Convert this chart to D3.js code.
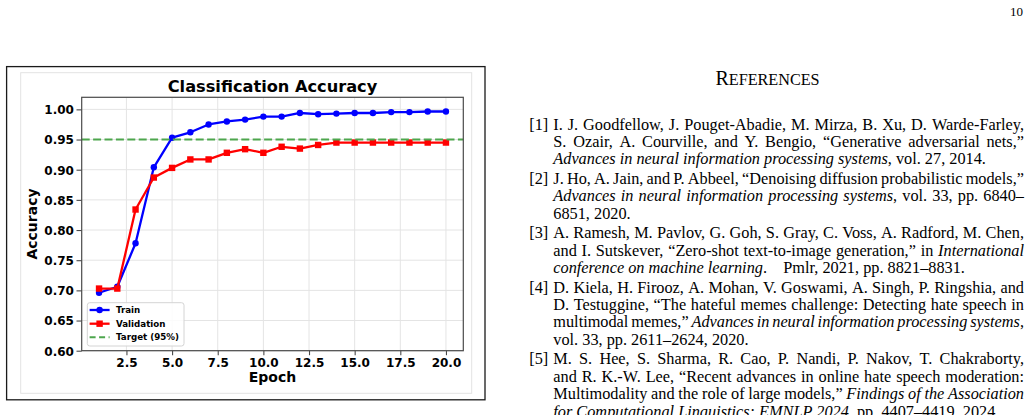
<!DOCTYPE html>
<html><head><meta charset="utf-8">
<script src="https://cdn.jsdelivr.net/npm/d3@7"></script>
<style>
html,body{margin:0;padding:0;background:#fff;}
svg{display:block;}
</style></head><body>
<svg id="page" width="1030" height="415"></svg>
<script>
// ---------------- chart data ----------------
const epochs = [1,2,3,4,5,6,7,8,9,10,11,12,13,14,15,16,17,18,19,20];
const trainAcc = [0.696,0.706,0.778,0.904,0.953,0.962,0.975,0.980,0.983,0.988,0.988,0.994,0.992,0.993,0.994,0.994,0.9955,0.9955,0.9965,0.9965];
const valAcc   = [0.703,0.703,0.834,0.887,0.903,0.917,0.917,0.928,0.934,0.928,0.938,0.935,0.941,0.945,0.945,0.945,0.945,0.945,0.945,0.945];
const targetAcc = 0.95;
const xTicks = [2.5,5.0,7.5,10.0,12.5,15.0,17.5,20.0];
const yTicks = [0.60,0.65,0.70,0.75,0.80,0.85,0.90,0.95,1.00];
const yLimits = [0.60,1.02];
const chartTitle = "Classification Accuracy";
const xLabel = "Epoch";
const yLabel = "Accuracy";
const legendLabels = ["Train","Validation","Target (95%)"];

// ---------------- page text ----------------
const pageNumber = "10";
const refHeadingFirst = "R";
const refHeadingRest = "EFERENCES";
const refLabels = ["[1]","[2]","[3]","[4]","[5]"];
// each line: array of [text, italic]
const refLines = [
  [
    [["I. J. Goodfellow, J. Pouget-Abadie, M. Mirza, B. Xu, D. Warde-Farley,",0]],
    [["S. Ozair, A. Courville, and Y. Bengio, \u201cGenerative adversarial nets,\u201d",0]],
    [["Advances in neural information processing systems",1],[", vol. 27, 2014.",0]]
  ],
  [
    [["J. Ho, A. Jain, and P. Abbeel, \u201cDenoising diffusion probabilistic models,\u201d",0]],
    [["Advances in neural information processing systems",1],[", vol. 33, pp. 6840\u2013",0]],
    [["6851, 2020.",0]]
  ],
  [
    [["A. Ramesh, M. Pavlov, G. Goh, S. Gray, C. Voss, A. Radford, M. Chen,",0]],
    [["and I. Sutskever, \u201cZero-shot text-to-image generation,\u201d in ",0],["International",1]],
    [["conference on machine learning",1],[".\u00a0\u00a0\u00a0 Pmlr, 2021, pp. 8821\u20138831.",0]]
  ],
  [
    [["D. Kiela, H. Firooz, A. Mohan, V. Goswami, A. Singh, P. Ringshia, and",0]],
    [["D. Testuggine, \u201cThe hateful memes challenge: Detecting hate speech in",0]],
    [["multimodal memes,\u201d ",0],["Advances in neural information processing systems",1],[",",0]],
    [["vol. 33, pp. 2611\u20132624, 2020.",0]]
  ],
  [
    [["M. S. Hee, S. Sharma, R. Cao, P. Nandi, P. Nakov, T. Chakraborty,",0]],
    [["and R. K.-W. Lee, \u201cRecent advances in online hate speech moderation:",0]],
    [["Multimodality and the role of large models,\u201d ",0],["Findings of the Association",1]],
    [["for Computational Linguistics: EMNLP 2024",1],[", pp. 4407\u20134419, 2024.",0]]
  ]
];

// ---------------- drawing ----------------
const svg = d3.select("#page");
svg.append("rect").attr("width",1030).attr("height",415).attr("fill","#fff");

const SANS = "'DejaVu Sans', Verdana, sans-serif";
const SERIF = "'Liberation Serif', 'Times New Roman', serif";

// figure frames
svg.append("rect").attr("x",6.6).attr("y",66.6).attr("width",478.4).attr("height",333.2)
  .attr("fill","none").attr("stroke","#1a1a1a").attr("stroke-width",1.3);
svg.append("rect").attr("x",20.7).attr("y",72.7).attr("width",451).attr("height",320.6)
  .attr("fill","#fff").attr("stroke","#e3e3e3").attr("stroke-width",1);

const P = {l:81.7, r:463.3, t:97.3, b:350.7};
const xPad = 0.05*(d3.max(epochs)-d3.min(epochs));
const x = d3.scaleLinear().domain([d3.min(epochs)-xPad, d3.max(epochs)+xPad]).range([P.l,P.r]);
const y = d3.scaleLinear().domain(yLimits).range([P.b,P.t]);

const plot = svg.append("g");
plot.append("rect").attr("x",P.l).attr("y",P.t).attr("width",P.r-P.l).attr("height",P.b-P.t).attr("fill","#fff");

// grid
plot.selectAll(".gx").data(xTicks).join("line")
  .attr("x1",d=>x(d)).attr("x2",d=>x(d)).attr("y1",P.t).attr("y2",P.b)
  .attr("stroke","#e4e4e4").attr("stroke-width",1);
plot.selectAll(".gy").data(yTicks).join("line")
  .attr("y1",d=>y(d)).attr("y2",d=>y(d)).attr("x1",P.l).attr("x2",P.r)
  .attr("stroke","#e4e4e4").attr("stroke-width",1);

const BLUE = "#0000ff", RED = "#ff0000", GREEN = "rgb(77,166,77)";
const trainData = epochs.map((e,i)=>[e,trainAcc[i]]);
const valData = epochs.map((e,i)=>[e,valAcc[i]]);
const line = d3.line().x(d=>x(d[0])).y(d=>y(d[1]));

plot.append("path").datum(trainData).attr("d",line).attr("fill","none")
  .attr("stroke",BLUE).attr("stroke-width",2.3).attr("stroke-linejoin","round");
plot.selectAll(".mt").data(trainData).join("circle")
  .attr("cx",d=>x(d[0])).attr("cy",d=>y(d[1])).attr("r",3.2).attr("fill",BLUE);

plot.append("path").datum(valData).attr("d",line).attr("fill","none")
  .attr("stroke",RED).attr("stroke-width",2.3).attr("stroke-linejoin","round");
const sq = 6.4;
plot.selectAll(".mv").data(valData).join("rect")
  .attr("x",d=>x(d[0])-sq/2).attr("y",d=>y(d[1])-sq/2).attr("width",sq).attr("height",sq).attr("fill",RED);

plot.append("line").attr("x1",P.l).attr("x2",P.r).attr("y1",y(targetAcc)).attr("y2",y(targetAcc))
  .attr("stroke",GREEN).attr("stroke-width",1.9).attr("stroke-dasharray","8,3.4");

// frame
plot.append("rect").attr("x",P.l).attr("y",P.t).attr("width",P.r-P.l).attr("height",P.b-P.t)
  .attr("fill","none").attr("stroke","#4a4a4a").attr("stroke-width",1.2);

// axes
const xAxis = svg.append("g").attr("transform",`translate(0,${P.b})`)
  .call(d3.axisBottom(x).tickValues(xTicks).tickFormat(d3.format(".1f")).tickSize(4.5).tickPadding(3.2));
const yAxis = svg.append("g").attr("transform",`translate(${P.l},0)`)
  .call(d3.axisLeft(y).tickValues(yTicks).tickFormat(d3.format(".2f")).tickSize(5.2).tickPadding(2.6));
[xAxis,yAxis].forEach(a=>{
  a.select(".domain").remove();
  a.selectAll(".tick line").attr("stroke","#4a4a4a").attr("stroke-width",1.1);
  a.selectAll(".tick text").attr("fill","#000").attr("font-family",SANS)
    .attr("font-weight","bold").attr("font-size",12);
});
yAxis.selectAll(".tick text").attr("dy","0.36em");

// titles
svg.append("text").attr("x",(P.l+P.r)/2).attr("y",92.2).attr("text-anchor","middle")
  .attr("font-family",SANS).attr("font-weight","bold").attr("font-size",16.2).text(chartTitle);
svg.append("text").attr("x",(P.l+P.r)/2).attr("y",381.5).attr("text-anchor","middle")
  .attr("font-family",SANS).attr("font-weight","bold").attr("font-size",14).text(xLabel);
svg.append("text").attr("transform",`translate(37.2,${(P.t+P.b)/2}) rotate(-90)`).attr("text-anchor","middle")
  .attr("font-family",SANS).attr("font-weight","bold").attr("font-size",14).text(yLabel);

// legend
const lg = svg.append("g");
lg.append("rect").attr("x",87.3).attr("y",302.7).attr("width",96.7).attr("height",43.3).attr("rx",2.5)
  .attr("fill","#fff").attr("fill-opacity",0.85).attr("stroke","#d4d4d4").attr("stroke-width",1);
const rowY = [310,323.7,337.3];
const hx0 = 89.6, hx1 = 109.6, hxc = (hx0+hx1)/2;
lg.append("line").attr("x1",hx0).attr("x2",hx1).attr("y1",rowY[0]).attr("y2",rowY[0]).attr("stroke",BLUE).attr("stroke-width",2.3);
lg.append("circle").attr("cx",hxc).attr("cy",rowY[0]).attr("r",3.2).attr("fill",BLUE);
lg.append("line").attr("x1",hx0).attr("x2",hx1).attr("y1",rowY[1]).attr("y2",rowY[1]).attr("stroke",RED).attr("stroke-width",2.3);
lg.append("rect").attr("x",hxc-sq/2).attr("y",rowY[1]-sq/2).attr("width",sq).attr("height",sq).attr("fill",RED);
lg.append("line").attr("x1",hx0).attr("x2",hx1).attr("y1",rowY[2]).attr("y2",rowY[2]).attr("stroke",GREEN).attr("stroke-width",1.9).attr("stroke-dasharray","6,3.5");
lg.selectAll(".lt").data(legendLabels).join("text")
  .attr("x",116).attr("y",(d,i)=>rowY[i]+3.1)
  .attr("font-family",SANS).attr("font-weight","bold").attr("font-size",8.7).attr("fill","#000").text(d=>d);

// ---------------- references column ----------------
svg.append("text").attr("x",1023).attr("y",16.4).attr("text-anchor","end")
  .attr("font-family",SERIF).attr("font-size",13).attr("fill","#000").text(pageNumber);

const hd = svg.append("text").attr("x",767.5).attr("y",84.5).attr("text-anchor","middle")
  .attr("font-family",SERIF).attr("fill","#000");
hd.append("tspan").attr("font-size",20).text(refHeadingFirst);
hd.append("tspan").attr("font-size",16.2).text(refHeadingRest);

const FS = 16.3, LS = 17.45, GAP = 2.0;
const LABX = 529.3, TX = 553.3, TR = 1024;
const refG = svg.append("g").attr("font-family",SERIF).attr("font-size",FS).attr("fill","#000");

function wordsOf(pieces){
  const words=[]; let cur=[];
  pieces.forEach(([s,it])=>{
    const parts = s.split(" ");
    parts.forEach((p,i)=>{
      if(i>0){ if(cur.length) words.push(cur); cur=[]; }
      if(p) cur.push([p,it]);
    });
  });
  if(cur.length) words.push(cur);
  return words;
}
function addPieces(t,pieces){
  pieces.forEach(([s,it])=>t.append("tspan").attr("font-style",it?"italic":"normal").text(s));
}
let yb = 129.5;
refLines.forEach((entry,ei)=>{
  refG.append("text").attr("x",LABX).attr("y",yb).text(refLabels[ei]);
  entry.forEach((pieces,li)=>{
    const last = li===entry.length-1;
    if(last){
      const t = refG.append("text").attr("x",TX).attr("y",yb).style("white-space","pre");
      addPieces(t,pieces);
    } else {
      const words = wordsOf(pieces);
      const widths = words.map(w=>{
        const tmp = refG.append("text").attr("x",0).attr("y",-100).style("white-space","pre");
        addPieces(tmp,w);
        const wd = tmp.node().getComputedTextLength();
        tmp.remove();
        return wd;
      });
      const total = d3.sum(widths);
      const gap = (TR-TX-total)/(words.length-1);
      let cx = TX;
      const t = refG.append("text").attr("y",yb).style("white-space","pre");
      words.forEach((w,wi)=>{
        w.forEach(([s,it],pi)=>{
          const ts = t.append("tspan").attr("font-style",it?"italic":"normal").text(s);
          if(pi===0) ts.attr("x",cx);
        });
        cx += widths[wi]+gap;
      });
    }
    yb += LS;
  });
  yb += GAP;
});
</script>
</body></html>
